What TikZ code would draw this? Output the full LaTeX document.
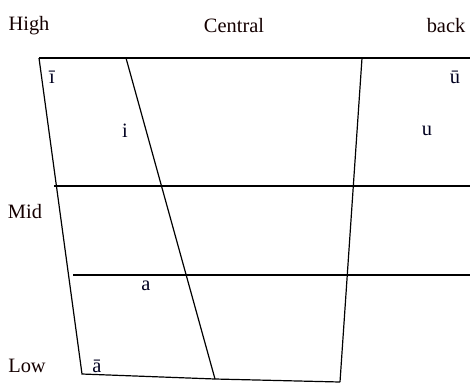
\documentclass[tikz,border=0pt]{standalone}
\usepackage{fontspec}
\setmainfont{Liberation Serif}

\begin{document}
\begin{tikzpicture}[
  x=1pt, y=-1pt,
  font=\fontsize{20.4}{24}\selectfont,
  linea/.style={draw=black, line width=1.2pt},
  etichetta/.style={inner sep=0pt, text=black!92!red},
  vocale/.style={inner sep=0pt, text=black!88!blue}
]
\useasboundingbox (0,0) rectangle (470,383);

%--------------------------------------------------------------
% Vertici del trapezio
%--------------------------------------------------------------
\coordinate (altosx) at (39,58);
\coordinate (altodx) at (470,58);
\coordinate (bassosx) at (82,374);
\coordinate (centroalto) at (126,58);
\coordinate (centrobasso) at (215,379);
\coordinate (dietroalto) at (362,58);
\coordinate (dietrobasso) at (340,382);
\coordinate (medio) at (54,186);
\coordinate (mediodx) at (470,186);
\coordinate (basso) at (73,275);
\coordinate (bassodx) at (470,275);

%--------------------------------------------------------------
% Linee
%--------------------------------------------------------------
\draw[linea] (altosx) -- (altodx);
\draw[linea] (altosx) -- (bassosx) -- (centrobasso) -- (dietrobasso);
\draw[linea] (centroalto) -- (centrobasso);
\draw[linea] (dietroalto) -- (dietrobasso);
\draw[linea] (medio) -- (mediodx);
\draw[linea] (basso) -- (bassodx);

%--------------------------------------------------------------
% Etichette
%--------------------------------------------------------------
\node[etichetta] (high) at (29,26) {High};
\node[etichetta] (central) at (234,26) {Central};
\node[etichetta] (back) at (446,26) {back};
\node[etichetta] (mid) at (25,212) {Mid};
\node[etichetta] (low) at (27,366) {Low};

%--------------------------------------------------------------
% Vocali
%--------------------------------------------------------------
\node[vocale] (ilunga) at (52,77) {ī};
\node[vocale] (ulunga) at (455,77) {ū};
\node[vocale] (ibreve) at (125,131) {i};
\node[vocale] (ubreve) at (427,131) {u};
\node[vocale] (abreve) at (146,286) {a};
\node[vocale] (alunga) at (97,366) {ā};

\end{tikzpicture}
\end{document}
